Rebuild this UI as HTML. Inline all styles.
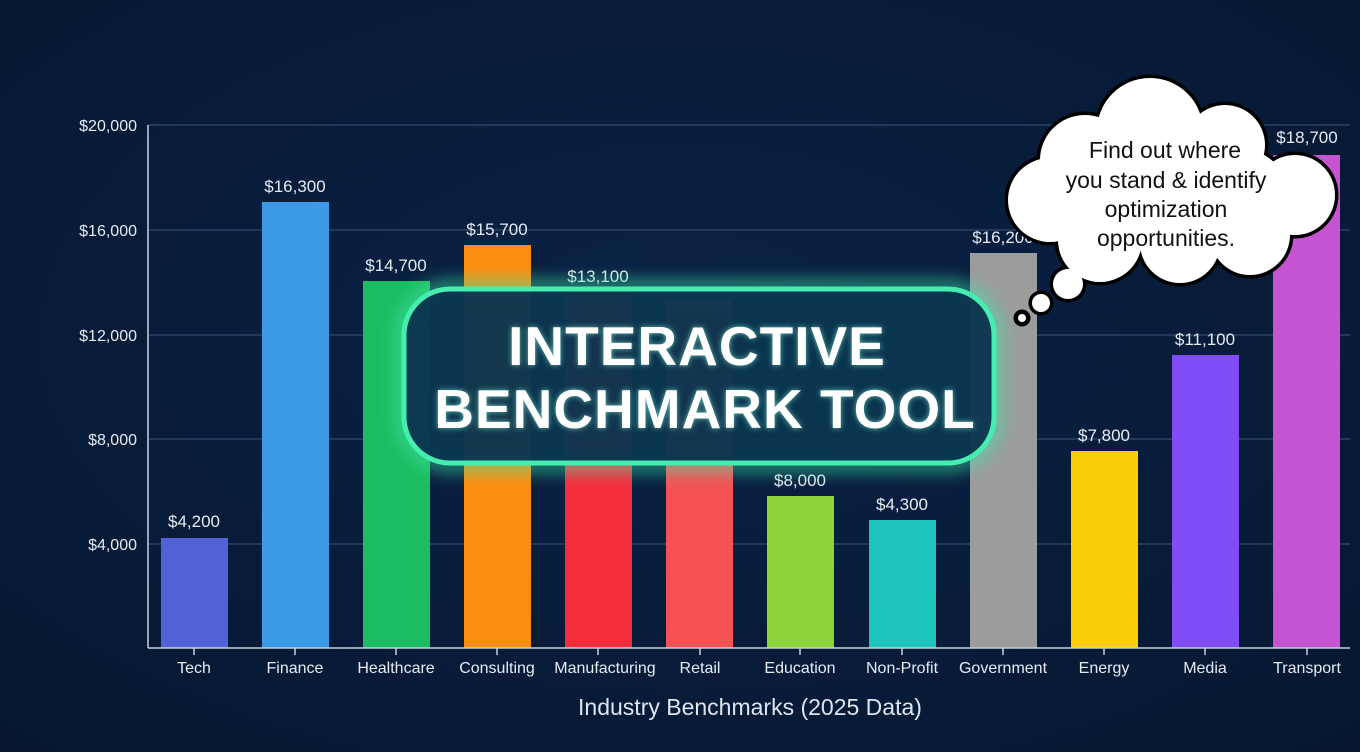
<!DOCTYPE html>
<html><head><meta charset="utf-8"><style>
html,body{margin:0;padding:0;background:#071a38;}
svg{display:block}
text{font-family:"Liberation Sans",sans-serif;}
</style></head><body>
<svg width="1360" height="752" viewBox="0 0 1360 752" xmlns="http://www.w3.org/2000/svg">
<defs>
<radialGradient id="bg" cx="50%" cy="45%" r="75%">
<stop offset="0" stop-color="#0a2347"/><stop offset="1" stop-color="#06162f"/>
</radialGradient>
<filter id="glow" x="-20%" y="-30%" width="140%" height="160%"><feGaussianBlur stdDeviation="8"/></filter>
<filter id="tglow" x="-10%" y="-30%" width="120%" height="160%"><feGaussianBlur stdDeviation="3"/></filter>
</defs>
<rect width="1360" height="752" fill="url(#bg)"/>
<g stroke="#3a5578" stroke-width="1">
<line x1="148" y1="125" x2="1350" y2="125"/>
<line x1="148" y1="230" x2="1350" y2="230"/>
<line x1="148" y1="335" x2="1350" y2="335"/>
<line x1="148" y1="439" x2="1350" y2="439"/>
<line x1="148" y1="544" x2="1350" y2="544"/>
</g>
<g fill="#e6ebf2" font-size="16" text-anchor="end">
<text x="137" y="131">$20,000</text>
<text x="137" y="236">$16,000</text>
<text x="137" y="341">$12,000</text>
<text x="137" y="445">$8,000</text>
<text x="137" y="550">$4,000</text>
</g>
<g>
<rect x="161" y="538" width="67" height="110" fill="#5062d6"/>
<rect x="262" y="202" width="67" height="446" fill="#3d9be6"/>
<rect x="363" y="281" width="67" height="367" fill="#1cbd62"/>
<rect x="464" y="245" width="67" height="403" fill="#fb8c10"/>
<rect x="565" y="290" width="67" height="358" fill="#f42d3c"/>
<rect x="666" y="300" width="67" height="348" fill="#f65256"/>
<rect x="767" y="496" width="67" height="152" fill="#8cd43a"/>
<rect x="869" y="520" width="67" height="128" fill="#1cc4bc"/>
<rect x="970" y="253" width="67" height="395" fill="#9c9c9c"/>
<rect x="1071" y="451" width="67" height="197" fill="#fbcd0a"/>
<rect x="1172" y="355" width="67" height="293" fill="#7f4cf5"/>
<rect x="1273" y="155" width="67" height="493" fill="#c454d2"/>
</g>
<g fill="#e6ebf2" font-size="17" text-anchor="middle">
<text x="194" y="527">$4,200</text>
<text x="295" y="192">$16,300</text>
<text x="396" y="271">$14,700</text>
<text x="497" y="235">$15,700</text>
<text x="598" y="282">$13,100</text>
<text x="800" y="486">$8,000</text>
<text x="902" y="510">$4,300</text>
<text x="1003" y="243">$16,200</text>
<text x="1104" y="441">$7,800</text>
<text x="1205" y="345">$11,100</text>
<text x="1307" y="143">$18,700</text>
</g>
<g stroke="#c8d0dc" stroke-width="1.5">
<line x1="148" y1="125" x2="148" y2="648"/>
<line x1="148" y1="648" x2="1350" y2="648"/>
<line x1="194" y1="648" x2="194" y2="655"/><line x1="295" y1="648" x2="295" y2="655"/>
<line x1="396" y1="648" x2="396" y2="655"/><line x1="497" y1="648" x2="497" y2="655"/>
<line x1="598" y1="648" x2="598" y2="655"/><line x1="700" y1="648" x2="700" y2="655"/>
<line x1="800" y1="648" x2="800" y2="655"/><line x1="902" y1="648" x2="902" y2="655"/>
<line x1="1003" y1="648" x2="1003" y2="655"/><line x1="1104" y1="648" x2="1104" y2="655"/>
<line x1="1205" y1="648" x2="1205" y2="655"/><line x1="1307" y1="648" x2="1307" y2="655"/>
</g>
<g fill="#e6ebf2" font-size="16" text-anchor="middle">
<text x="194" y="673">Tech</text><text x="295" y="673">Finance</text>
<text x="396" y="673">Healthcare</text><text x="497" y="673">Consulting</text>
<text x="605" y="673">Manufacturing</text><text x="700" y="673">Retail</text>
<text x="800" y="673">Education</text><text x="902" y="673">Non-Profit</text>
<text x="1003" y="673">Government</text><text x="1104" y="673">Energy</text>
<text x="1205" y="673">Media</text><text x="1307" y="673">Transport</text>
</g>
<text x="750" y="715" fill="#dfe5ee" font-size="23" text-anchor="middle">Industry Benchmarks (2025 Data)</text>
<!-- glowing box -->
<rect x="402" y="287" width="594" height="178" rx="48" fill="none" stroke="#3de8a8" stroke-width="14" opacity="0.6" filter="url(#glow)"/>
<rect x="404" y="289" width="590" height="174" rx="46" fill="#0b3650" fill-opacity="0.97" stroke="#45eeb0" stroke-width="5"/>
<g font-size="55" font-weight="bold" text-anchor="middle" fill="#7ff0d8" filter="url(#tglow)" opacity="0.7" letter-spacing="1">
<text x="697" y="365">INTERACTIVE</text><text x="705" y="428">BENCHMARK TOOL</text></g>
<g font-size="55" font-weight="bold" text-anchor="middle" fill="#ffffff" letter-spacing="1">
<text x="697" y="365">INTERACTIVE</text><text x="705" y="428">BENCHMARK TOOL</text></g>
<!-- thought cloud -->
<g stroke="#000" stroke-width="7" fill="#000">
<circle cx="1150" cy="131" r="53"/><circle cx="1085" cy="160" r="45"/><circle cx="1050" cy="200" r="42"/>
<circle cx="1100" cy="240" r="42"/><circle cx="1180" cy="243" r="40"/><circle cx="1250" cy="235" r="40"/>
<circle cx="1295" cy="195" r="40"/><circle cx="1225" cy="145" r="40"/><ellipse cx="1170" cy="192" rx="120" ry="60"/>
<circle cx="1068" cy="284" r="15"/><circle cx="1041" cy="303" r="9"/><circle cx="1022" cy="318" r="5"/>
</g>
<g fill="#fff">
<circle cx="1150" cy="131" r="53"/><circle cx="1085" cy="160" r="45"/><circle cx="1050" cy="200" r="42"/>
<circle cx="1100" cy="240" r="42"/><circle cx="1180" cy="243" r="40"/><circle cx="1250" cy="235" r="40"/>
<circle cx="1295" cy="195" r="40"/><circle cx="1225" cy="145" r="40"/><ellipse cx="1170" cy="192" rx="120" ry="60"/>
<circle cx="1068" cy="284" r="15"/><circle cx="1041" cy="303" r="9"/><circle cx="1022" cy="318" r="4"/>
</g>
<g fill="#111" font-size="23" text-anchor="middle">
<text x="1165" y="158">Find out where</text>
<text x="1166" y="188">you stand &amp; identify</text>
<text x="1166" y="217">optimization</text>
<text x="1166" y="246">opportunities.</text>
</g>
</svg>
</body></html>
